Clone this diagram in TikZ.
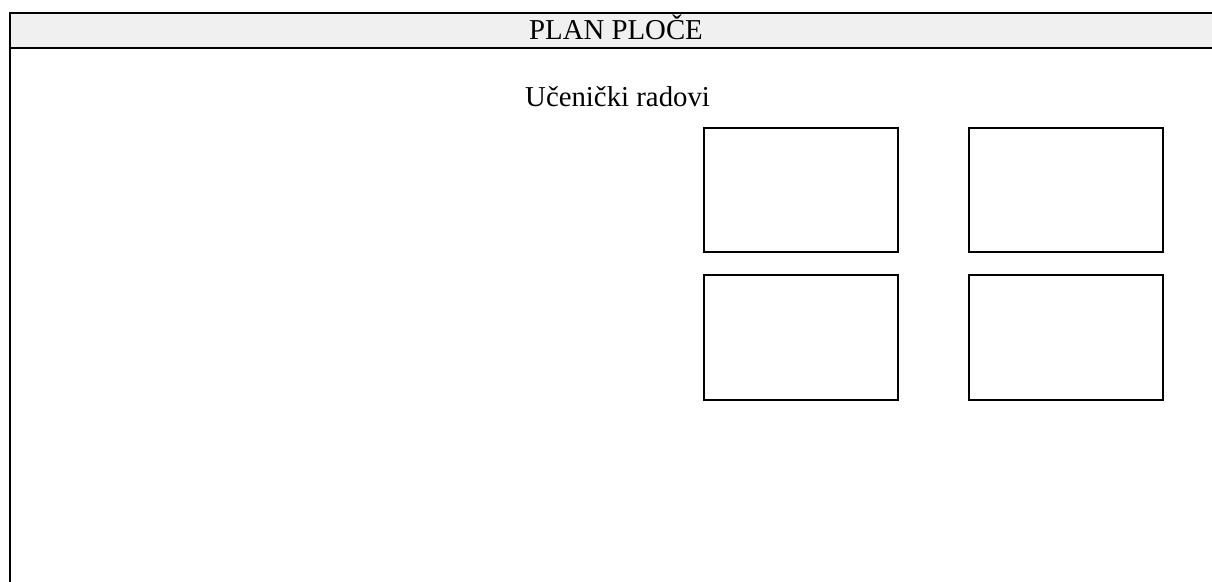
\documentclass[tikz,border=0pt]{standalone}
\usepackage{fontspec}
\setmainfont{Liberation Serif}
\usepackage[dvipsnames,svgnames]{xcolor}
\usepackage{tkz-euclide}
\definecolor{headgray}{RGB}{240,240,240}

\begin{document}
\begin{tikzpicture}[x=1pt,y=-1pt,line width=2.4pt,
  tekst/.style={inner sep=0pt,font=\fontsize{28.8}{34}\selectfont}]
  \useasboundingbox (0,0) rectangle (1212,581);
  \tkzDefPoint(10,13){O}
  \tkzDefPoint(1214,13){R}
  \tkzDefPoint(10,48){H}
  \tkzDefPoint(1214,48){S}
  \tkzDefPoint(10,583){F}
  \tkzFillPolygon[fill=headgray](O,R,S,H)
  \tkzDrawPolySeg[line width=2.4pt](R,O,F)
  \tkzDrawSegment[line width=2.4pt](H,S)
  \node[tekst,anchor=base] (naslov) at (616,39.3) {PLAN PLOČE};
  \node[tekst,anchor=base west] (radovi) at (524,106) {Učenički radovi};
  % radovi
  \tkzDefPoint(704,128){A}  \tkzDefPoint(898,252){B}
  \tkzDefPoint(969,128){C}  \tkzDefPoint(1163,252){D}
  \tkzDefPoint(704,275){E}  \tkzDefPoint(898,400){G}
  \tkzDefPoint(969,275){K}  \tkzDefPoint(1163,400){L}
  \draw (A) rectangle (B) (C) rectangle (D)
        (E) rectangle (G) (K) rectangle (L);
\end{tikzpicture}
\end{document}
